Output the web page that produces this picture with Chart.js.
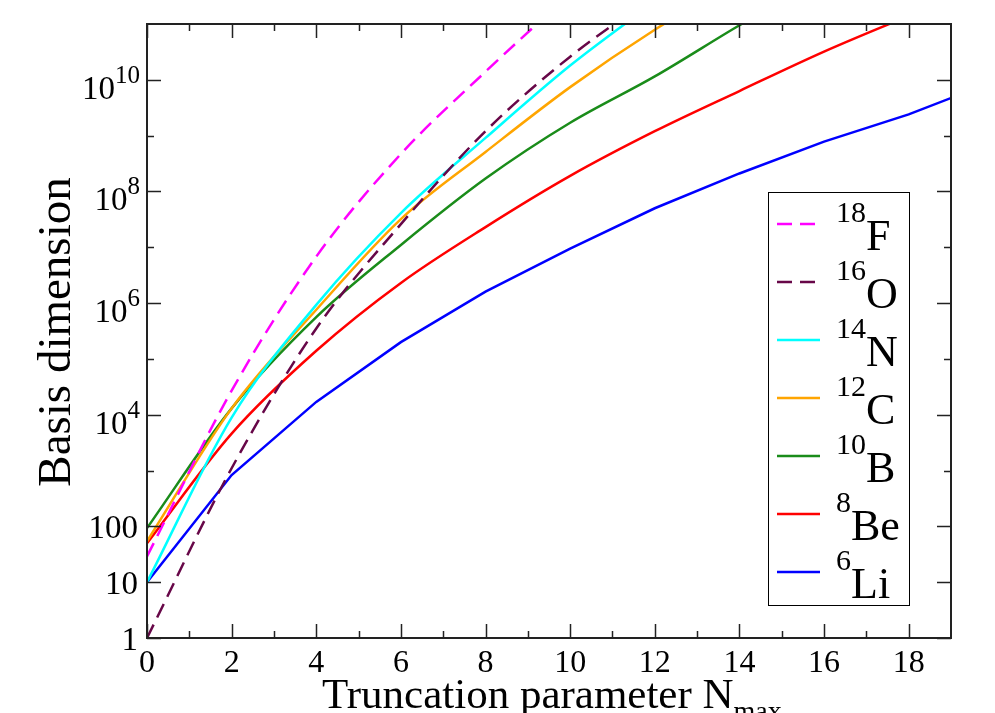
<!DOCTYPE html>
<html>
<head>
<meta charset="utf-8">
<script src="https://cdn.jsdelivr.net/npm/chart.js@4.4.1/dist/chart.umd.min.js"></script>
<style>
	html, body { margin: 0; padding: 0; background: #fff; }
	#chart { display: block; }
</style>
</head>
<body>
<canvas id="chart" width="995" height="713"></canvas>
<script>
// Truncation parameter Nmax (even values only).
const nmax = [0, 2, 4, 6, 8, 10, 12, 14, 16, 18, 20];

// Basis dimension per nucleus, one value per Nmax above.
const dimF18 = [29, 2.7e4, 6.8e6, 4.7e8, 1.4e10, 3.5e11];
const dimO16 = [1, 1.1e3, 3.5e5, 2.6e7, 1.2e9, 2.6e10, 3.2e11];
const dimN14 = [10, 8.9e3, 9.3e5, 4.1e7, 9.1e8, 1.8e10, 2.5e11];
const dimC12 = [54, 1.3e4, 7.6e5, 3.2e7, 5.1e8, 7.4e9, 7.9e10, 6.3e11];
const dimB10 = [93, 1.3e4, 5.6e5, 1.1e7, 1.7e8, 1.7e9, 1.15e10, 9.5e10, 7.1e11];
const dimBe8 = [50, 4.6e3, 1.4e5, 2.3e6, 2.3e7, 1.9e8, 1.2e9, 6.3e9, 3.2e10, 1.4e11];
const dimLi6 = [10, 830, 1.7e4, 2.0e5, 1.6e6, 9.5e6, 5.0e7, 2.1e8, 7.8e8, 2.4e9, 9.3e9];

// Legend labels: mass number (superscript) and element symbol.
const massNumbers = ['18', '16', '14', '12', '10', '8', '6'];
const symbols = ['F', 'O', 'N', 'C', 'B', 'Be', 'Li'];

// Axis ticks.
const xMajorTicks = [0, 2, 4, 6, 8, 10, 12, 14, 16, 18];
const xMinorTicks = [1, 3, 5, 7, 9, 11, 13, 15, 17];
const yMajorTicks = [1, 10, 100, 1e4, 1e6, 1e8, 1e10];
const yTickBase = ['1', '10', '100', '10', '10', '10', '10'];
const yTickExp = ['', '', '', '4', '6', '8', '10'];
const yMinorTicks = [1e3, 1e5, 1e7, 1e9];

const serif = "'Liberation Serif', 'Times New Roman', serif";

function points(values) {
	return values.map(function(v, i) {
		return { x: nmax[i], y: v };
	});
}

// Frame, inward ticks, tick labels, axis titles and legend.
const gracePlugin = {
	id: 'graceFrame',
	afterDatasetsDraw: function(chart) {
		const ctx = chart.ctx;
		const a = chart.chartArea;
		const xs = chart.scales.x;
		const ys = chart.scales.y;

		ctx.save();
		ctx.strokeStyle = '#222';
		ctx.lineWidth = 2;
		ctx.strokeRect(a.left, a.top, a.right - a.left, a.bottom - a.top);

		ctx.beginPath();
		function xTick(v, len) {
			const px = Math.round(xs.getPixelForValue(v)) + 0.5;
			ctx.moveTo(px, a.bottom);
			ctx.lineTo(px, a.bottom - len);
			ctx.moveTo(px, a.top);
			ctx.lineTo(px, a.top + len);
		}
		function yTick(v, len) {
			const py = Math.round(ys.getPixelForValue(v)) + 0.5;
			ctx.moveTo(a.left, py);
			ctx.lineTo(a.left + len, py);
			ctx.moveTo(a.right, py);
			ctx.lineTo(a.right - len, py);
		}
		xMajorTicks.forEach(function(v) { xTick(v, 14); });
		xMinorTicks.forEach(function(v) { xTick(v, 7); });
		yMajorTicks.forEach(function(v) { yTick(v, 14); });
		yMinorTicks.forEach(function(v) { yTick(v, 7); });
		ctx.lineWidth = 1.5;
		ctx.stroke();

		// Tick labels.
		ctx.fillStyle = '#000';
		ctx.textAlign = 'center';
		ctx.textBaseline = 'alphabetic';
		ctx.font = '32px ' + serif;
		xMajorTicks.forEach(function(v) {
			ctx.fillText(String(v), xs.getPixelForValue(v), a.bottom + 34);
		});

		ctx.textAlign = 'right';
		yMajorTicks.forEach(function(v, i) {
			const py = ys.getPixelForValue(v);
			const right = a.left - 7;
			if (yTickExp[i]) {
				ctx.font = '25px ' + serif;
				const w = ctx.measureText(yTickExp[i]).width;
				ctx.fillText(yTickExp[i], right, py + 3);
				ctx.font = '33px ' + serif;
				ctx.fillText(yTickBase[i], right - w, py + 19);
			} else {
				ctx.font = '33px ' + serif;
				ctx.fillText(yTickBase[i], right - 2, py + 12);
			}
		});

		// Axis titles.
		ctx.save();
		ctx.translate(70, (a.top + a.bottom) / 2 + 1);
		ctx.rotate(-Math.PI / 2);
		ctx.textAlign = 'center';
		ctx.font = '47px ' + serif;
		ctx.fillText('Basis dimension', 0, 0);
		ctx.restore();

		ctx.textAlign = 'left';
		ctx.font = '43px ' + serif;
		const title = 'Truncation parameter N';
		ctx.fillText(title, 322, 708);
		const tw = ctx.measureText(title).width;
		ctx.font = '28px ' + serif;
		ctx.fillText('max', 322 + tw, 720);

		// Legend box.
		const box = { left: 768, top: 192, right: 909, bottom: 605 };
		ctx.fillStyle = '#fff';
		ctx.fillRect(box.left, box.top, box.right - box.left, box.bottom - box.top);
		ctx.strokeStyle = '#000';
		ctx.lineWidth = 1;
		ctx.strokeRect(box.left + 0.5, box.top + 0.5, box.right - box.left, box.bottom - box.top);

		chart.data.datasets.forEach(function(ds, i) {
			const rowY = 224 + i * 58;
			ctx.save();
			ctx.strokeStyle = ds.borderColor;
			ctx.lineWidth = 2.5;
			ctx.setLineDash(ds.borderDash || []);
			ctx.beginPath();
			ctx.moveTo(777, rowY);
			ctx.lineTo(ds.borderDash ? 823 : 820, rowY);
			ctx.stroke();
			ctx.restore();

			ctx.fillStyle = '#000';
			ctx.textAlign = 'left';
			ctx.font = '30px ' + serif;
			ctx.fillText(massNumbers[i], 836, rowY - 2);
			const mw = ctx.measureText(massNumbers[i]).width;
			ctx.font = '44px ' + serif;
			ctx.fillText(symbols[i], 836 + mw, rowY + 26);
		});

		ctx.restore();
	}
};

function line(values, color, dash, smooth) {
	return {
		data: points(values),
		borderColor: color,
		borderWidth: 2.5,
		borderDash: dash,
		pointRadius: 0,
		cubicInterpolationMode: smooth ? 'monotone' : 'default',
		tension: 0,
		fill: false
	};
}

new Chart(document.getElementById('chart'), {
	type: 'line',
	data: {
		datasets: [
			line(dimF18, '#ff00ff', [15, 8], true),
			line(dimO16, '#670748', [15, 8], true),
			line(dimN14, '#00ffff', undefined, true),
			line(dimC12, '#ffa500', undefined, true),
			line(dimB10, '#1a8c1a', undefined, true),
			line(dimBe8, '#ff0000', undefined, true),
			line(dimLi6, '#0000ff', undefined, false)
		]
	},
	options: {
		responsive: false,
		animation: false,
		devicePixelRatio: 1,
		layout: {
			padding: { left: 147, top: 24, right: 44, bottom: 75 }
		},
		plugins: {
			legend: { display: false },
			tooltip: { enabled: false }
		},
		scales: {
			x: { type: 'linear', min: 0, max: 19, display: false },
			y: { type: 'logarithmic', min: 1, max: 1e11, display: false }
		}
	},
	plugins: [gracePlugin]
});
</script>
</body>
</html>
